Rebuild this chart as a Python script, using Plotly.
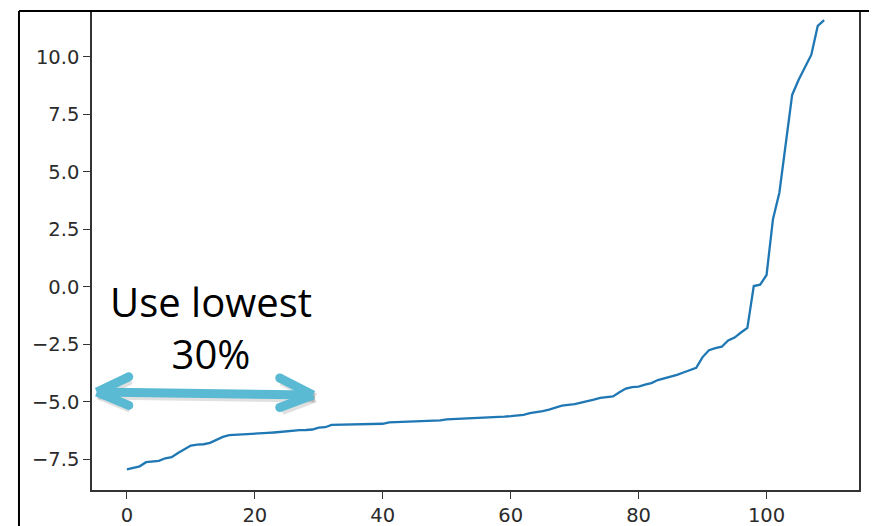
import plotly.graph_objects as go

# sorted values, index 0..109
values = [
    -7.93, -7.85, -7.80, -7.62, -7.58, -7.56, -7.45, -7.40, -7.22, -7.05,
    -6.90, -6.86, -6.84, -6.78, -6.64, -6.52, -6.44, -6.43, -6.42, -6.40,
    -6.38, -6.36, -6.35, -6.33, -6.30, -6.26, -6.24, -6.23, -6.22, -6.20,
    -6.12, -6.10, -6.00, -5.99, -5.99, -5.98, -5.98, -5.97, -5.97, -5.96,
    -5.95, -5.89, -5.88, -5.87, -5.86, -5.85, -5.84, -5.83, -5.82, -5.80,
    -5.76, -5.75, -5.74, -5.73, -5.71, -5.70, -5.68, -5.66, -5.65, -5.64,
    -5.62, -5.60, -5.56, -5.49, -5.45, -5.40, -5.33, -5.24, -5.16, -5.13,
    -5.10, -5.03, -4.98, -4.90, -4.82, -4.79, -4.76, -4.58, -4.42, -4.36,
    -4.33, -4.25, -4.18, -4.05, -3.98, -3.90, -3.82, -3.72, -3.63, -3.52,
    -3.05, -2.75, -2.66, -2.60, -2.33, -2.20, -1.98, -1.78, 0.04, 0.10,
    0.52, 2.95, 4.10, 6.30, 8.35, 9.00, 9.55, 10.10, 11.35, 11.60,
]
index = list(range(len(values)))

x_ticks = [0, 20, 40, 60, 80, 100]
y_ticks = [-7.5, -5.0, -2.5, 0.0, 2.5, 5.0, 7.5, 10.0]
y_tick_labels = ["\u22127.5", "\u22125.0", "\u22122.5", "0.0", "2.5", "5.0", "7.5", "10.0"]

annotation_text = "Use lowest<br>30%"

fig = go.Figure()
fig.add_trace(go.Scatter(x=index, y=values, mode="lines",
                         line=dict(color="#1f77b4", width=2.3),
                         showlegend=False, hoverinfo="skip"))

arrow_color = "#5BBAD3"
shadow = "rgba(0,0,0,0.12)"

# double-headed arrow (data coords)
arrow_segments = [
    ((-4.7, -4.57), (29.1, -4.70)),
    ((-4.7, -4.57), (0.3, -3.91)),
    ((-4.7, -4.57), (0.3, -5.15)),
    ((29.1, -4.70), (23.9, -3.96)),
    ((29.1, -4.70), (23.9, -5.24)),
]
dx, dy = 0.3, -0.12
for (x0, y0), (x1, y1) in arrow_segments:
    fig.add_shape(type="line", x0=x0 + dx, y0=y0 + dy, x1=x1 + dx, y1=y1 + dy,
                  xref="x", yref="y", line=dict(color=shadow, width=9.5))
for (x0, y0), (x1, y1) in arrow_segments:
    fig.add_shape(type="line", x0=x0, y0=y0, x1=x1, y1=y1,
                  xref="x", yref="y", line=dict(color=arrow_color, width=9))
# rounded ends of the chevron arms
for (x0, y0), (x1, y1) in arrow_segments[1:]:
    fig.add_shape(type="circle", xref="x", yref="y", xsizemode="pixel", ysizemode="pixel",
                  xanchor=x1, yanchor=y1, x0=-4.5, x1=4.5, y0=-4.5, y1=4.5,
                  fillcolor=arrow_color, line=dict(width=0))

fig.add_annotation(x=13.1, y=-1.78, xref="x", yref="y", text=annotation_text,
                   showarrow=False, font=dict(family="Open Sans", size=40, color="black"),
                   align="center")

# outer frame lines (top and left)
fig.add_shape(type="line", xref="paper", yref="paper", x0=-0.0952, x1=1.03, y0=1.0, y1=1.0,
              line=dict(color="black", width=2.2))
fig.add_shape(type="line", xref="paper", yref="paper", x0=-0.0952, x1=-0.0952, y0=1.0, y1=-0.1,
              line=dict(color="black", width=2))

# the page places the figure 8px from the top-left corner
fig.update_layout(
    width=869, height=518,
    margin=dict(l=84, r=18, t=3, b=36, autoexpand=False),
    paper_bgcolor="white", plot_bgcolor="white",
    font=dict(family="DejaVu Sans", size=19.5, color="#2b2b2b"),
)
fig.update_xaxes(range=[-5.45, 114.45], tickvals=x_ticks, ticks="outside", ticklen=7,
                 tickcolor="#333", showline=True, linecolor="#333", linewidth=1.6,
                 showgrid=False, zeroline=False, automargin=False)
fig.update_yaxes(range=[-8.83, 12.0], tickvals=y_ticks, ticktext=y_tick_labels,
                 ticks="outside", ticklen=7, tickcolor="#333", showline=True,
                 linecolor="#333", linewidth=1.6, mirror=True,
                 showgrid=False, zeroline=False, automargin=False)

fig.write_html("out.html")
